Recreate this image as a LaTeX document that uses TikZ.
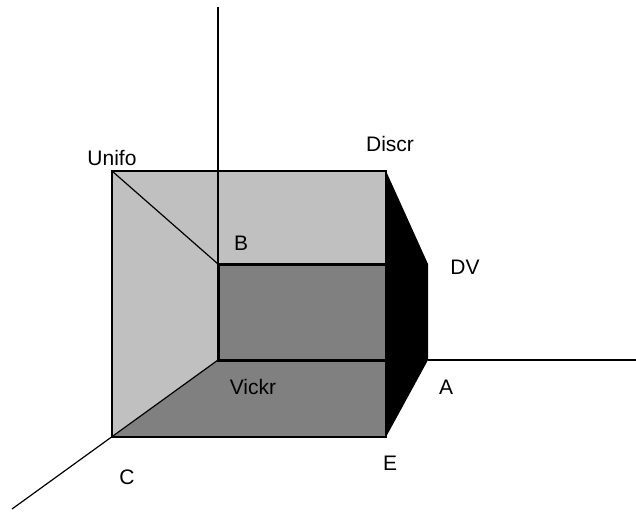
\documentclass[tikz,border=0pt]{standalone}
\usepackage{fontspec}
\setmainfont{Liberation Sans}
\definecolor{lightg}{RGB}{192,192,192}
\definecolor{darkg}{RGB}{128,128,128}
\tikzset{
  lbl/.style={inner sep=0pt, font=\fontsize{21}{24}\selectfont},
  thinline/.style={draw=black, line width=1.2pt},
  thickline/.style={draw=black, line width=3pt},
}
\begin{document}
\begin{tikzpicture}[x=1pt,y=-1pt]
\useasboundingbox (0,0) rectangle (636,512);
% corners
\coordinate (TL) at (112,171);
\coordinate (TR) at (386,171);
\coordinate (BL) at (112,437);
\coordinate (BR) at (386,437);
\coordinate (IB) at (218,264);
\coordinate (IR) at (386,264);
\coordinate (IBL) at (218,360);
\coordinate (IBR) at (386,360);
\coordinate (DVp) at (428,264);
\coordinate (Ap) at (428,360);
\coordinate (Ztop) at (218,7);
\coordinate (Xend) at (636,360);
\coordinate (Yend) at (12,509);
% faces
\fill[lightg] (TL) -- (IB) -- (IBL) -- (BL) -- cycle;
\fill[lightg] (TL) -- (TR) -- (IR) -- (IB) -- cycle;
\fill[darkg] (BL) -- (IBL) -- (IBR) -- (BR) -- cycle;
\fill[darkg] (IB) rectangle (IBR);
\fill[black] (TR) -- (DVp) -- (Ap) -- (BR) -- cycle;
% axes
\draw[thinline] (Ztop) -- (IB);
\draw[thinline] (Ap) -- (Xend);
\draw[thinline] (IBL) -- (Yend);
\draw[thinline] (TL) -- (IB);
% outer square
\draw[thinline] (TL) -- (TR) -- (BR) -- (BL) -- cycle;
% inner thick edges
\draw[thickline] (IR) -- (IB) -- (IBL) -- (IBR);
% labels
\node[lbl] (unifo) at (112,158) {Unifo};
\node[lbl] (discr) at (390,144) {Discr};
\node[lbl] (b) at (241,243) {B};
\node[lbl] (dv) at (465,267) {DV};
\node[lbl] (a) at (446,387) {A};
\node[lbl] (e) at (390,463) {E};
\node[lbl] (c) at (127,477) {C};
\node[lbl] (vickr) at (253,387) {Vickr};
\end{tikzpicture}
\end{document}
